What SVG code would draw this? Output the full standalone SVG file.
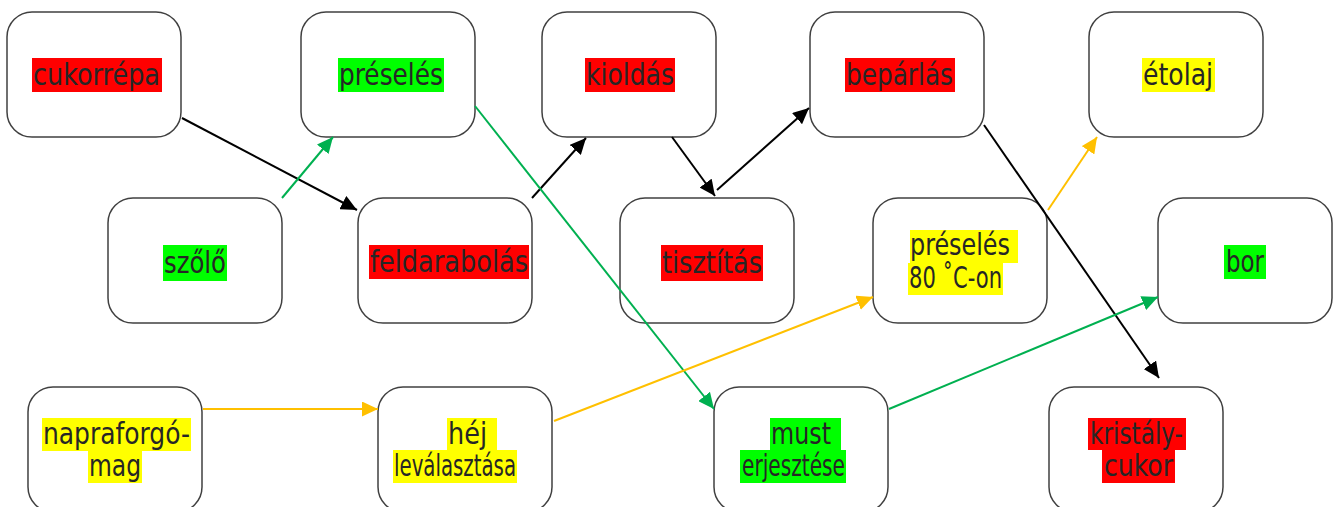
<svg xmlns="http://www.w3.org/2000/svg" width="1336" height="507" viewBox="0 0 1336 507">
<style>
.box{fill:#fff;stroke:#404040;stroke-width:1.5}
.t{font-family:"DejaVu Sans Condensed","DejaVu Sans",sans-serif;font-size:30px;fill:#262626}
.r{fill:#ff0000}.g{fill:#00ff00}.y{fill:#ffff00}
.cb{stroke:#000;stroke-width:2;fill:none}
.cg{stroke:#00b050;stroke-width:2;fill:none}
.cy{stroke:#ffc000;stroke-width:2;fill:none}
</style>
<defs>
<marker id="ab" markerUnits="userSpaceOnUse" markerWidth="17" markerHeight="15" refX="16" refY="7.5" orient="auto"><path d="M0,0 L16,7.5 L0,15 z" fill="#000"/></marker>
<marker id="ag" markerUnits="userSpaceOnUse" markerWidth="17" markerHeight="15" refX="16" refY="7.5" orient="auto"><path d="M0,0 L16,7.5 L0,15 z" fill="#00b050"/></marker>
<marker id="ay" markerUnits="userSpaceOnUse" markerWidth="17" markerHeight="15" refX="16" refY="7.5" orient="auto"><path d="M0,0 L16,7.5 L0,15 z" fill="#ffc000"/></marker>
</defs>
<rect width="1336" height="507" fill="#fff"/>
<g id="n-cukorrepa"><rect class="box" x="7" y="12" width="174" height="125" rx="25"/><rect class="r" x="32" y="58" width="130" height="34"/><text class="t" x="33" y="85" textLength="127" lengthAdjust="spacingAndGlyphs">cukorrépa</text></g>
<g id="n-preseles"><rect class="box" x="301" y="12" width="174" height="125" rx="25"/><rect class="g" x="338" y="58" width="106" height="34"/><text class="t" x="339" y="85" textLength="104" lengthAdjust="spacingAndGlyphs">préselés</text></g>
<g id="n-kioldas"><rect class="box" x="542" y="12" width="174" height="125" rx="25"/><rect class="r" x="585" y="58" width="90" height="34"/><text class="t" x="586" y="85" textLength="88" lengthAdjust="spacingAndGlyphs">kioldás</text></g>
<g id="n-beparlas"><rect class="box" x="810" y="12" width="174" height="125" rx="25"/><rect class="r" x="845" y="58" width="110" height="34"/><text class="t" x="846" y="85" textLength="107" lengthAdjust="spacingAndGlyphs">bepárlás</text></g>
<g id="n-etolaj"><rect class="box" x="1089" y="12" width="174" height="125" rx="25"/><rect class="y" x="1142" y="58" width="73" height="34"/><text class="t" x="1143" y="85" textLength="70" lengthAdjust="spacingAndGlyphs">étolaj</text></g>
<g id="n-szolo"><rect class="box" x="108" y="198" width="174" height="125" rx="25"/><rect class="g" x="163" y="245" width="64" height="36"/><text class="t" x="164" y="273" textLength="62" lengthAdjust="spacingAndGlyphs">szőlő</text></g>
<g id="n-feldarabolas"><rect class="box" x="358" y="198" width="174" height="125" rx="25"/><rect class="r" x="369" y="245" width="160" height="34"/><text class="t" x="370" y="272" textLength="158" lengthAdjust="spacingAndGlyphs">feldarabolás</text></g>
<g id="n-tisztitas"><rect class="box" x="620" y="198" width="174" height="125" rx="25"/><rect class="r" x="661" y="245" width="102" height="36"/><text class="t" x="662" y="273" textLength="100" lengthAdjust="spacingAndGlyphs">tisztítás</text></g>
<g id="n-preseles80"><rect class="box" x="873" y="198" width="174" height="125" rx="25"/><rect class="y" x="910" y="230" width="108" height="33"/><rect class="y" x="908" y="263" width="95" height="32"/><text class="t" x="910" y="255" textLength="100" lengthAdjust="spacingAndGlyphs">préselés</text><text class="t" x="909" y="288" textLength="93" lengthAdjust="spacingAndGlyphs">80 ˚C-on</text></g>
<g id="n-bor"><rect class="box" x="1158" y="198" width="174" height="125" rx="25"/><rect class="g" x="1224" y="245" width="42" height="34"/><text class="t" x="1226" y="272" textLength="38" lengthAdjust="spacingAndGlyphs">bor</text></g>
<g id="n-napraforgo"><rect class="box" x="28" y="387" width="174" height="125" rx="25"/><rect class="y" x="42" y="418" width="149" height="33"/><rect class="y" x="88" y="451" width="54" height="32"/><text class="t" x="43" y="444" textLength="147" lengthAdjust="spacingAndGlyphs">napraforgó-</text><text class="t" x="89" y="476" textLength="52" lengthAdjust="spacingAndGlyphs">mag</text></g>
<g id="n-hej"><rect class="box" x="378" y="387" width="174" height="125" rx="25"/><rect class="y" x="447" y="418" width="50" height="32"/><rect class="y" x="393" y="450" width="124" height="33"/><text class="t" x="448" y="444" textLength="39" lengthAdjust="spacingAndGlyphs">héj</text><text class="t" x="394" y="476" textLength="122" lengthAdjust="spacingAndGlyphs">leválasztása</text></g>
<g id="n-must"><rect class="box" x="714" y="387" width="174" height="125" rx="25"/><rect class="g" x="770" y="418" width="71" height="32"/><rect class="g" x="740" y="450" width="106" height="33"/><text class="t" x="771" y="444" textLength="60" lengthAdjust="spacingAndGlyphs">must</text><text class="t" x="742" y="476" textLength="103" lengthAdjust="spacingAndGlyphs">erjesztése</text></g>
<g id="n-kristalycukor"><rect class="box" x="1049" y="387" width="174" height="125" rx="25"/><rect class="r" x="1088" y="418" width="98" height="32"/><rect class="r" x="1102" y="450" width="73" height="33"/><text class="t" x="1090" y="444" textLength="93" lengthAdjust="spacingAndGlyphs">kristály-</text><text class="t" x="1104" y="476" textLength="69" lengthAdjust="spacingAndGlyphs">cukor</text></g>
<g id="connectors">
<line class="cb" x1="182" y1="118" x2="357" y2="210" marker-end="url(#ab)"/>
<line class="cb" x1="532" y1="198" x2="586" y2="138" marker-end="url(#ab)"/>
<line class="cb" x1="672" y1="137" x2="715" y2="196" marker-end="url(#ab)"/>
<line class="cb" x1="717" y1="190" x2="809" y2="108" marker-end="url(#ab)"/>
<line class="cb" x1="984" y1="125" x2="1159" y2="378" marker-end="url(#ab)"/>
<line class="cg" x1="282" y1="198" x2="333" y2="137" marker-end="url(#ag)"/>
<line class="cg" x1="475" y1="106" x2="714" y2="409" marker-end="url(#ag)"/>
<line class="cg" x1="889" y1="409" x2="1158" y2="297" marker-end="url(#ag)"/>
<line class="cy" x1="203" y1="409" x2="378" y2="409" marker-end="url(#ay)"/>
<line class="cy" x1="554" y1="421" x2="873" y2="297" marker-end="url(#ay)"/>
<line class="cy" x1="1048" y1="210" x2="1097" y2="137" marker-end="url(#ay)"/>
</g>
</svg>
